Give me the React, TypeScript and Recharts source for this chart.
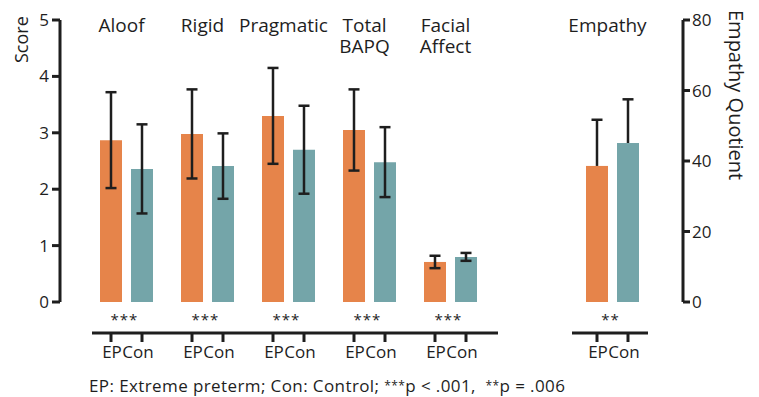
import React from 'react';
import { BarChart, Bar, XAxis, YAxis, ErrorBar, Label } from 'recharts';

const categories = ['Aloof', 'Rigid', 'Pragmatic', 'Total BAPQ', 'Facial Affect', '', 'Empathy'];
const groupLabels = [['Aloof'], ['Rigid'], ['Pragmatic'], ['Total', 'BAPQ'], ['Facial', 'Affect'], [], ['Empathy']];
const sigLabels = ['***', '***', '***', '***', '***', '', '**'];
const groupTickLabels = ['EP', 'Con'];

const epScore = [2.87, 2.98, 3.3, 3.05, 0.71, null, null];
const epScoreSd = [0.85, 0.79, 0.85, 0.72, 0.11, null, null];
const conScore = [2.36, 2.41, 2.7, 2.48, 0.8, null, null];
const conScoreSd = [0.79, 0.58, 0.78, 0.62, 0.07, null, null];

const epEmpathy = [null, null, null, null, null, null, 38.6];
const epEmpathySd = [null, null, null, null, null, null, 13.1];
const conEmpathy = [null, null, null, null, null, null, 45.1];
const conEmpathySd = [null, null, null, null, null, null, 12.4];

const scoreTicks = [0, 1, 2, 3, 4, 5];
const empathyTicks = [0, 20, 40, 60, 80];

const footnote = {
  lead: 'EP: Extreme preterm; Con: Control; ',
  s3: '***',
  p1: 'p < .001,  ',
  s2: '**',
  p2: 'p = .006',
};

const data = categories.map((group, i) => ({
  group,
  epScore: epScore[i],
  epScoreSd: epScoreSd[i],
  conScore: conScore[i],
  conScoreSd: conScoreSd[i],
  epEmpathy: epEmpathy[i],
  epEmpathySd: epEmpathySd[i],
  conEmpathy: conEmpathy[i],
  conEmpathySd: conEmpathySd[i],
}));

const ORANGE = '#E6844A';
const TEAL = '#74A5A9';
const INK = '#1e1e1e';
const FONT = '"Open Sans", sans-serif';
const BAR_SIZE = 22;
const BAR_GAP = 9;
const PAD = { left: 26, right: 30 };

const TopTick = (props: any) => {
  const { x, y, index } = props;
  const lines = groupLabels[index] || [];
  if (!lines.length) return null;
  const cx = x - 5;
  return (
    <g>
      {lines.map((l, i) => (
        <text key={i} x={cx} y={y + 12 + i * 21} textAnchor="middle" fontFamily={FONT} fontSize={19} fill={INK}>
          {l}
        </text>
      ))}
    </g>
  );
};

const BottomTick = (props: any) => {
  const { x, y, index, payload } = props;
  if (!categories[index]) return null;
  const band = payload && payload.offset ? payload.offset * 2 : 81;
  const half = band / 2;
  const nextGap = index < categories.length - 1 && !categories[index + 1];
  const isLast = index === categories.length - 1;
  const left = index === 0 ? x - half + 6 : x - half;
  const right = nextGap ? x + half + 7 : isLast ? x + half - 5 : x + half;
  const d = (BAR_SIZE + BAR_GAP) / 2;
  const lineY = y + 31;
  return (
    <g>
      <text x={x - 2} y={y + 23} textAnchor="middle" fontFamily={FONT} fontSize={15} fill={INK} letterSpacing={1}>
        {sigLabels[index]}
      </text>
      <line x1={left} x2={right} y1={lineY} y2={lineY} stroke={INK} strokeWidth={3} />
      <line x1={x - d} x2={x - d} y1={lineY} y2={lineY + 9} stroke={INK} strokeWidth={3} />
      <line x1={x + d} x2={x + d} y1={lineY} y2={lineY + 9} stroke={INK} strokeWidth={3} />
      <text x={x - d + 1} y={y + 56} textAnchor="middle" fontFamily={FONT} fontSize={17} fill={INK}>
        {groupTickLabels[0]}
      </text>
      <text x={x + d - 4} y={y + 56} textAnchor="middle" fontFamily={FONT} fontSize={17} fill={INK}>
        {groupTickLabels[1]}
      </text>
    </g>
  );
};

const makeEmpathyShape = (valueKey: string, sdKey: string) => (props: any) => {
  const { x, y, width, height, fill, payload } = props;
  const v = payload ? payload[valueKey] : null;
  const sd = payload ? payload[sdKey] : null;
  if (v == null || !height) return null;
  const pxPerUnit = height / v;
  const top = y - sd * pxPerUnit;
  const cx = x + width / 2;
  return (
    <g>
      <rect x={x} y={y} width={width} height={height} fill={fill} />
      <line x1={cx} x2={cx} y1={y} y2={top} stroke={INK} strokeWidth={2.5} />
      <line x1={cx - 5.5} x2={cx + 5.5} y1={top} y2={top} stroke={INK} strokeWidth={2.5} />
    </g>
  );
};

const ScoreLabel = () => (
  <text x={28} y={63} transform="rotate(-90, 28, 63)" fontFamily={FONT} fontSize={18} fill={INK}>
    Score
  </text>
);

const EmpathyLabel = () => (
  <text x={729} y={10} transform="rotate(90, 729, 10)" fontFamily={FONT} fontSize={20} fill={INK}>
    Empathy Quotient
  </text>
);

const Footnote = () => (
  <text x={89} y={392} fontFamily={FONT} fontSize={17} fill={INK} letterSpacing={0.4} style={{ whiteSpace: 'pre' }}>
    <tspan>{footnote.lead}</tspan>
    <tspan fontSize={12} dy={-2}>{footnote.s3}</tspan>
    <tspan dy={2}>{footnote.p1}</tspan>
    <tspan fontSize={12} dy={-2}>{footnote.s2}</tspan>
    <tspan dy={2}>{footnote.p2}</tspan>
  </text>
);

export default function App() {
  return (
    <div style={{ position: 'absolute', left: 0, top: 0, background: '#fff' }}>
      <BarChart
        width={759}
        height={397}
        data={data}
        margin={{ top: 0, right: 0, bottom: 0, left: 0 }}
        barSize={BAR_SIZE}
        barGap={BAR_GAP}
      >
        <XAxis
          xAxisId="top"
          orientation="top"
          dataKey="group"
          height={20}
          padding={PAD}
          axisLine={false}
          tickLine={false}
          tickSize={0}
          tickMargin={0}
          interval={0}
          tick={<TopTick />}
        />
        <XAxis
          xAxisId="score"
          dataKey="group"
          height={95}
          padding={PAD}
          axisLine={false}
          tickLine={false}
          tickSize={0}
          tickMargin={0}
          interval={0}
          tick={<BottomTick />}
        >
          <Label content={<Footnote />} />
        </XAxis>
        <XAxis xAxisId="emp" dataKey="group" padding={PAD} hide height={0} interval={0} />
        <YAxis
          yAxisId="score"
          width={60}
          domain={[0, 5]}
          ticks={scoreTicks}
          interval={0}
          axisLine={{ stroke: INK, strokeWidth: 3 }}
          tickLine={{ stroke: INK, strokeWidth: 3 }}
          tickSize={8}
          tickMargin={3}
          tick={{ fill: INK, fontSize: 17, fontFamily: FONT }}
        >
          <Label content={<ScoreLabel />} />
        </YAxis>
        <YAxis
          yAxisId="emp"
          orientation="right"
          width={76}
          domain={[0, 80]}
          ticks={empathyTicks}
          interval={0}
          axisLine={{ stroke: INK, strokeWidth: 3 }}
          tickLine={{ stroke: INK, strokeWidth: 3 }}
          tickSize={7}
          tickMargin={2}
          tick={{ fill: INK, fontSize: 17, fontFamily: FONT }}
        >
          <Label content={<EmpathyLabel />} />
        </YAxis>
        <Bar xAxisId="score" yAxisId="score" dataKey="epScore" fill={ORANGE} isAnimationActive={false}>
          <ErrorBar dataKey="epScoreSd" direction="y" width={5.5} stroke={INK} strokeWidth={2.5} />
        </Bar>
        <Bar xAxisId="score" yAxisId="score" dataKey="conScore" fill={TEAL} isAnimationActive={false}>
          <ErrorBar dataKey="conScoreSd" direction="y" width={5.5} stroke={INK} strokeWidth={2.5} />
        </Bar>
        <Bar
          xAxisId="emp"
          yAxisId="emp"
          dataKey="epEmpathy"
          fill={ORANGE}
          isAnimationActive={false}
          shape={makeEmpathyShape('epEmpathy', 'epEmpathySd')}
        />
        <Bar
          xAxisId="emp"
          yAxisId="emp"
          dataKey="conEmpathy"
          fill={TEAL}
          isAnimationActive={false}
          shape={makeEmpathyShape('conEmpathy', 'conEmpathySd')}
        />
      </BarChart>
    </div>
  );
}
